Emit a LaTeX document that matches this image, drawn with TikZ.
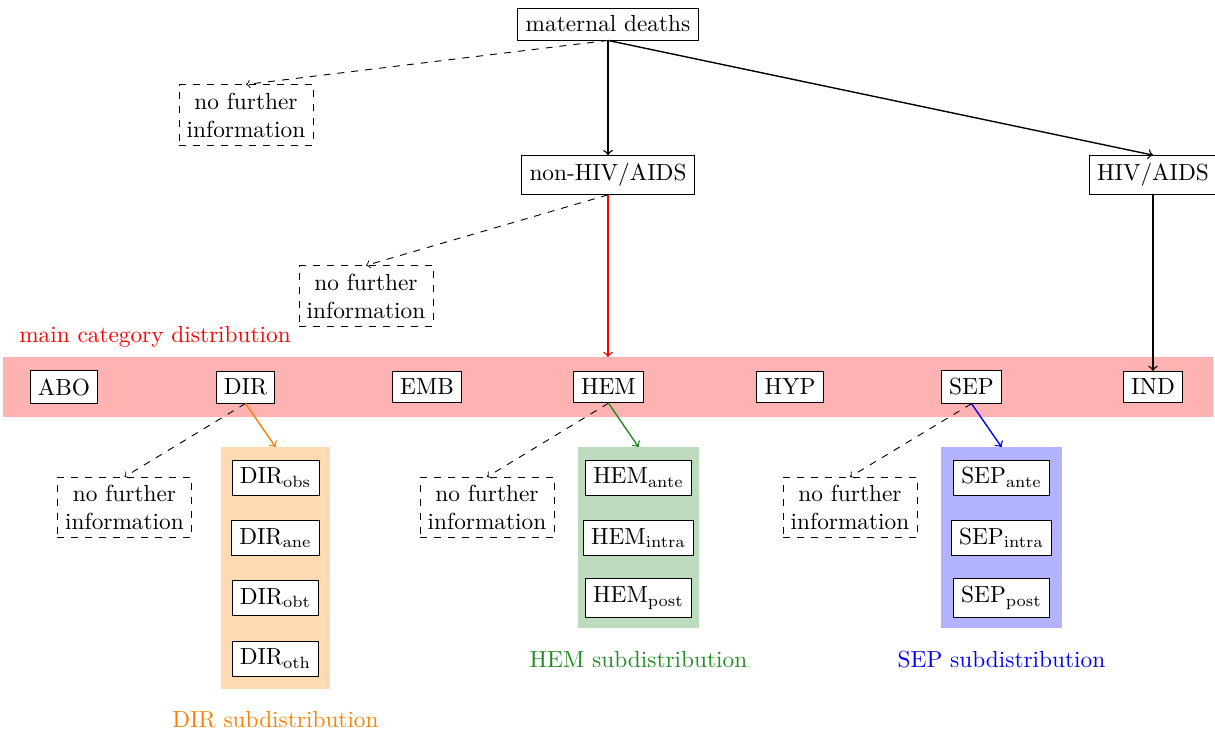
\documentclass[tikz,border=0pt]{standalone}
\definecolor{mygreen}{RGB}{34,139,34}
\begin{document}
\begin{tikzpicture}[x=0.4292pt,y=-0.4292pt,
  box/.style={draw, fill=white, inner sep=3.33pt},
  nfi/.style={draw, dashed, align=center, inner sep=3.33pt},
  arr/.style={->, semithick},
  darr/.style={->, dashed},
  band/.style={inner sep=0pt, outer sep=0pt},
]
\useasboundingbox (0,0) rectangle (1215,732);
% backgrounds
\node[band, fill=red!30, minimum width=519.3pt, minimum height=25.75pt] (mainband) at (608,387) {};
\node[band, fill=orange!30, minimum width=46.8pt, minimum height=103.9pt] (dirbox) at (275.5,568) {};
\node[band, fill=mygreen!30, minimum width=51.9pt, minimum height=77.7pt] (hembox) at (638.5,537.5) {};
\node[band, fill=blue!30, minimum width=51.9pt, minimum height=77.7pt] (sepbox) at (1001.5,537.5) {};
% top
\node[box] (md) at (608,24) {maternal deaths};
\node[nfi] (nf1) at (246,115) {no further\\information};
\node[box] (nonhiv) at (608,175) {non-HIV/AIDS};
\node[box] (hiv) at (1153,175) {HIV/AIDS};
\node[nfi] (nf2) at (366,296) {no further\\information};
\node[text=red] (mainlab) at (155,337) {main category distribution};
% categories
\node[box] (abo) at (64,387) {ABO};
\node[box] (dir) at (245.5,387) {DIR};
\node[box] (emb) at (427,387) {EMB};
\node[box] (hem) at (608.5,387) {HEM};
\node[box] (hyp) at (790,387) {HYP};
\node[box] (sep) at (971.5,387) {SEP};
\node[box] (ind) at (1153,387) {IND};
% DIR sub
\node[nfi] (nf3) at (124.5,507.5) {no further\\information};
\node[box] (dirobs) at (275.5,477.5) {$\mathrm{DIR}_{\mathrm{obs}}$};
\node[box] (dirane) at (275.5,538) {$\mathrm{DIR}_{\mathrm{ane}}$};
\node[box] (dirobt) at (275.5,598) {$\mathrm{DIR}_{\mathrm{obt}}$};
\node[box] (diroth) at (275.5,658.5) {$\mathrm{DIR}_{\mathrm{oth}}$};
\node[text=orange] (dirlab) at (275.5,720) {DIR subdistribution};
% HEM sub
\node[nfi] (nf4) at (487,507.5) {no further\\information};
\node[box] (hemante) at (638.5,477.5) {$\mathrm{HEM}_{\mathrm{ante}}$};
\node[box] (hemintra) at (638.5,538) {$\mathrm{HEM}_{\mathrm{intra}}$};
\node[box] (hempost) at (638.5,598) {$\mathrm{HEM}_{\mathrm{post}}$};
\node[text=mygreen] (hemlab) at (638.5,660) {HEM subdistribution};
% SEP sub
\node[nfi] (nf5) at (850,507.5) {no further\\information};
\node[box] (sepante) at (1001.5,477.5) {$\mathrm{SEP}_{\mathrm{ante}}$};
\node[box] (sepintra) at (1001.5,538) {$\mathrm{SEP}_{\mathrm{intra}}$};
\node[box] (seppost) at (1001.5,598) {$\mathrm{SEP}_{\mathrm{post}}$};
\node[text=blue] (seplab) at (1001.5,660) {SEP subdistribution};
% connectors
\draw[arr] (md.south) -- (nonhiv.north);
\draw[arr] (md.south) -- (hiv.north);
\draw[darr] (md.south) -- (nf1.north);
\draw[darr] (nonhiv.south) -- (nf2.north);
\draw[arr, red] (nonhiv.south) -- (mainband.north);
\draw[arr] (hiv.south) -- (ind.north);
\draw[darr] (dir.south) -- (nf3.north);
\draw[arr, orange] (dir.south) -- (dirbox.north);
\draw[darr] (hem.south) -- (nf4.north);
\draw[arr, mygreen] (hem.south) -- (hembox.north);
\draw[darr] (sep.south) -- (nf5.north);
\draw[arr, blue] (sep.south) -- (sepbox.north);
\end{tikzpicture}
\end{document}
